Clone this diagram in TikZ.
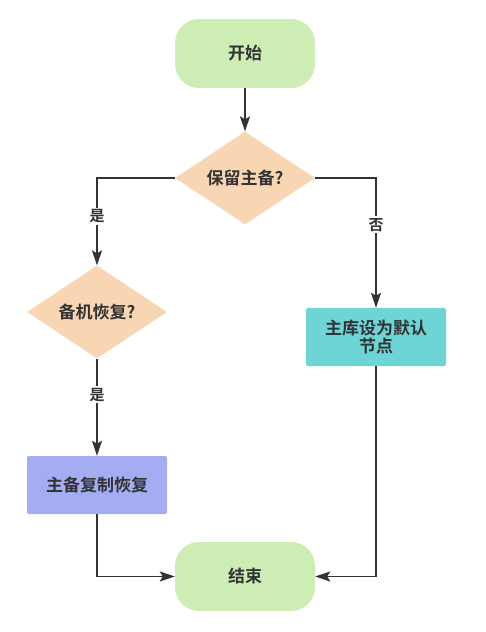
\documentclass[tikz,border=0pt]{standalone}
\usepackage{fontspec}
\setmainfont{Noto Sans CJK SC}[BoldFont={Noto Sans CJK SC Bold}]
\usepackage{tikz}
\usetikzlibrary{arrows.meta,positioning,shapes.geometric}
\usepackage{xcolor}

\definecolor{startgreen}{HTML}{CDEDB5}
\definecolor{decpeach}{HTML}{F8D6B4}
\definecolor{procblue}{HTML}{A4ADF2}
\definecolor{proccyan}{HTML}{6DD5D6}
\definecolor{inkgray}{HTML}{333333}

\tikzset{
    terminal/.style={rounded corners=24pt,fill=startgreen,minimum width=140pt,minimum height=69pt,inner sep=0pt},
    decision/.style={diamond,fill=decpeach,minimum width=140pt,minimum height=89pt,inner sep=0pt},
    process/.style={rounded corners=2pt,minimum width=140pt,minimum height=58pt,inner sep=0pt,align=center},
    flow/.style={draw=inkgray,line width=1.9pt,-{Stealth[length=15pt,width=10pt,inset=3pt]}},
    answer/.style={fill=white,inner sep=2pt,font=\fontsize{15}{17}\selectfont\bfseries,text=inkgray}
}

\begin{document}
\begin{tikzpicture}[x=1pt,y=-1pt,font=\fontsize{17}{17.5}\selectfont\bfseries,text=inkgray]
    \useasboundingbox (0,0) rectangle (486,632);
    % nodes
    \node[terminal] (start) at (245,53.5) {开始};
    \node[decision] (keep) at (245,178) {保留主备?};
    \node[decision] (recover) at (97,312) {备机恢复?};
    \node[process,fill=procblue] (copy) at (97,485) {主备复制恢复};
    \node[process,fill=proccyan] (default) at (376,337) {主库设为默认\\节点};
    \node[terminal] (finish) at (245,576.5) {结束};
    % connectors
    \draw[flow] (start) -- (keep);
    \draw[flow] (keep.west) -| node[answer,pos=0.72] {是} (recover.north);
    \draw[flow] (keep.east) -| node[answer,pos=0.68] {否} (default.north);
    \draw[flow] (recover) -- node[answer,pos=0.37] {是} (copy);
    \draw[flow] (copy.south) |- (finish.west);
    \draw[flow] (default.south) |- (finish.east);
\end{tikzpicture}
\end{document}
